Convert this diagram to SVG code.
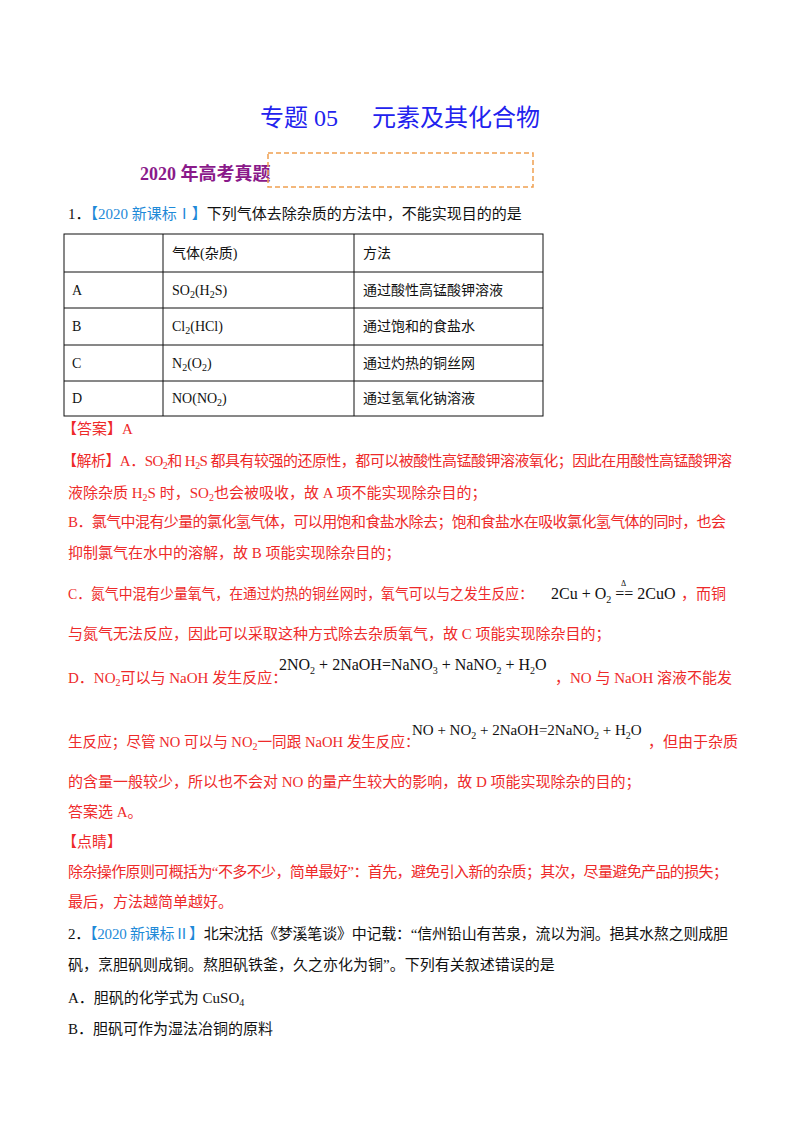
<svg xmlns="http://www.w3.org/2000/svg" width="800" height="1132" viewBox="0 0 800 1132">
<style>
text{font-family:"Liberation Serif","Noto Sans CJK SC",serif;font-size:15px;fill:#111}
.r{fill:#ee2a2a}
.b{fill:#1f8ad8}
.eq{font-size:16px;fill:#111}
.s{font-size:10px}
.tl{stroke:#111;stroke-width:1;fill:none}
</style>
<rect width="800" height="1132" fill="#fff"/>
<text x="260" y="126" style="font-size:24px;fill:#2222ee">专题 05</text>
<text x="372" y="126" style="font-size:24px;fill:#2222ee">元素及其化合物</text>
<text x="140" y="180" style="font-size:18px;font-weight:bold;fill:#8a1a8a">2020 年高考真题</text>
<rect x="268" y="153" width="265" height="34" fill="none" stroke="#f0a050" stroke-width="1.5" stroke-dasharray="5,3"/>
<text x="68" y="219">1．<tspan class="b">【2020 新课标Ⅰ】</tspan>下列气体去除杂质的方法中，不能实现目的的是</text>
<g id="table">
<rect class="tl" x="64" y="234" width="479" height="182"/>
<line class="tl" x1="163" y1="234" x2="163" y2="416"/>
<line class="tl" x1="354" y1="234" x2="354" y2="416"/>
<line class="tl" x1="64" y1="272" x2="543" y2="272"/>
<line class="tl" x1="64" y1="308" x2="543" y2="308"/>
<line class="tl" x1="64" y1="345" x2="543" y2="345"/>
<line class="tl" x1="64" y1="381" x2="543" y2="381"/>
<text x="172" y="258" style="font-size:14px">气体(杂质)</text><text x="363" y="258" style="font-size:14px">方法</text>
<text x="72" y="295" style="font-size:14px">A</text><text x="172" y="295" style="font-size:14px">SO<tspan class="s" dy="3">2</tspan><tspan dy="-3">(H</tspan><tspan class="s" dy="3">2</tspan><tspan dy="-3">S)</tspan></text><text x="363" y="295" style="font-size:14px">通过酸性高锰酸钾溶液</text>
<text x="72" y="331" style="font-size:14px">B</text><text x="172" y="331" style="font-size:14px">Cl<tspan class="s" dy="3">2</tspan><tspan dy="-3">(HCl)</tspan></text><text x="363" y="331" style="font-size:14px">通过饱和的食盐水</text>
<text x="72" y="368" style="font-size:14px">C</text><text x="172" y="368" style="font-size:14px">N<tspan class="s" dy="3">2</tspan><tspan dy="-3">(O</tspan><tspan class="s" dy="3">2</tspan><tspan dy="-3">)</tspan></text><text x="363" y="368" style="font-size:14px">通过灼热的铜丝网</text>
<text x="72" y="403" style="font-size:14px">D</text><text x="172" y="403" style="font-size:14px">NO(NO<tspan class="s" dy="3">2</tspan><tspan dy="-3">)</tspan></text><text x="363" y="403" style="font-size:14px">通过氢氧化钠溶液</text>
</g>
<g class="r">
<text class="r" x="62" y="434">【答案】A</text>
<text class="r" x="62" y="466" textLength="670">【解析】A．SO<tspan class="s" dy="3">2</tspan><tspan dy="-3">和 H</tspan><tspan class="s" dy="3">2</tspan><tspan dy="-3">S 都具有较强的还原性，都可以被酸性高锰酸钾溶液氧化；因此在用酸性高锰酸钾溶</tspan></text>
<text class="r" x="68" y="498">液除杂质 H<tspan class="s" dy="3">2</tspan><tspan dy="-3">S 时，SO</tspan><tspan class="s" dy="3">2</tspan><tspan dy="-3">也会被吸收，故 A 项不能实现除杂目的；</tspan></text>
<text class="r" x="68" y="527" textLength="658">B．氯气中混有少量的氯化氢气体，可以用饱和食盐水除去；饱和食盐水在吸收氯化氢气体的同时，也会</text>
<text class="r" x="68" y="558">抑制氯气在水中的溶解，故 B 项能实现除杂目的；</text>
<text class="r" x="68" y="599" textLength="465" lengthAdjust="spacingAndGlyphs">C．氮气中混有少量氧气，在通过灼热的铜丝网时，氧气可以与之发生反应：</text>
<text class="r" x="681" y="599">，而铜</text>
<text class="r" x="68" y="639">与氮气无法反应，因此可以采取这种方式除去杂质氧气，故 C 项能实现除杂目的；</text>
<text class="r" x="68" y="683">D．NO<tspan class="s" dy="3">2</tspan><tspan dy="-3">可以与 NaOH 发生反应：</tspan></text>
<text class="r" x="555" y="683">，NO 与 NaOH 溶液不能发</text>
<text class="r" x="68" y="747" style="font-size:14.6px">生反应；尽管 NO 可以与 NO<tspan class="s" dy="3">2</tspan><tspan dy="-3">一同跟 NaOH 发生反应：</tspan></text>
<text class="r" x="648" y="747">，但由于杂质</text>
<text class="r" x="68" y="787">的含量一般较少，所以也不会对 NO 的量产生较大的影响，故 D 项能实现除杂的目的；</text>
<text class="r" x="68" y="817">答案选 A。</text>
</g>
<text class="eq" x="551" y="599">2Cu + O<tspan class="s" dy="4">2</tspan><tspan dy="-4"> == 2CuO</tspan></text>
<text x="621" y="586" style="font-size:8px">Δ</text>
<text class="eq" x="279" y="670">2NO<tspan class="s" dy="4">2</tspan><tspan dy="-4"> + 2NaOH=NaNO</tspan><tspan class="s" dy="4">3</tspan><tspan dy="-4"> + NaNO</tspan><tspan class="s" dy="4">2</tspan><tspan dy="-4"> + H</tspan><tspan class="s" dy="4">2</tspan><tspan dy="-4">O</tspan></text>
<text class="eq" x="412" y="735" style="font-size:15px">NO + NO<tspan class="s" dy="4">2</tspan><tspan dy="-4"> + 2NaOH=2NaNO</tspan><tspan class="s" dy="4">2</tspan><tspan dy="-4"> + H</tspan><tspan class="s" dy="4">2</tspan><tspan dy="-4">O</tspan></text>
<text class="r" x="62" y="847" style="fill:#ee2a2a">【点睛】</text>
<text class="r" x="68" y="877" textLength="660">除杂操作原则可概括为“不多不少，简单最好”：首先，避免引入新的杂质；其次，尽量避免产品的损失；</text>
<text class="r" x="68" y="907">最后，方法越简单越好。</text>
<text x="68" y="939" textLength="660">2．<tspan class="b">【2020 新课标Ⅱ】</tspan>北宋沈括《梦溪笔谈》中记载：“信州铅山有苦泉，流以为涧。挹其水熬之则成胆</text>
<text x="68" y="970">矾，烹胆矾则成铜。熬胆矾铁釜，久之亦化为铜”。下列有关叙述错误的是</text>
<text x="68" y="1003">A．胆矾的化学式为 CuSO<tspan class="s" dy="3">4</tspan></text>
<text x="68" y="1034">B．胆矾可作为湿法冶铜的原料</text>
</svg>
